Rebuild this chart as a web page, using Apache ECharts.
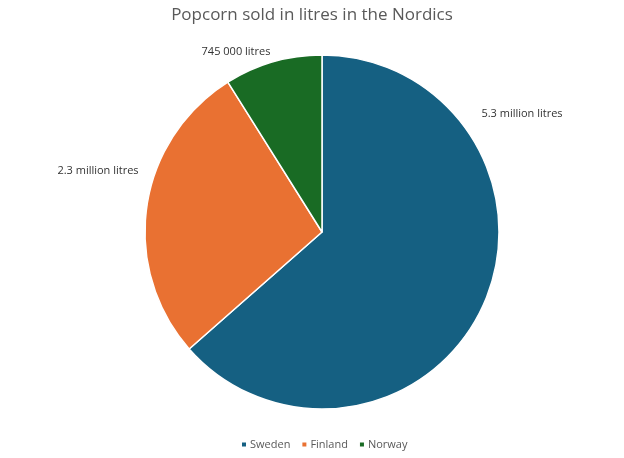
<!DOCTYPE html>
<html lang="en">
<head>
  <meta charset="UTF-8">
  <title>popcorn</title>
  <style>
    * { padding: 0; margin: 0; }
    #charts { width: 624px; height: 458px; background: #fff; }
  </style>
</head>
<body>
  <div id="charts"></div>
</body>
<script src="https://cdn.jsdelivr.net/npm/echarts@6/dist/echarts.min.js"></script>
<script type="text/javascript">
  var countries = ['Sweden', 'Finland', 'Norway']
  var litres = [5300000, 2300000, 745000]
  var labelTexts = ['5.3 million litres', '2.3 million litres', '745 000 litres']
  var colors = ['#156082', '#E97132', '#196B24']

  // label spots as placed in the original (x, y centre)
  var labelSpots = [[522, 114], [98, 171], [236, 52]]

  var myChart = echarts.init(document.getElementById('charts'))

  var seriesData = []
  for (var i = 0; i < countries.length; i++) {
    seriesData.push({ name: countries[i], value: litres[i], itemStyle: { color: colors[i] } })
  }

  var option = {
    animation: false,
    textStyle: { fontFamily: 'Open Sans' },
    title: {
      text: 'Popcorn sold in litres in the Nordics',
      left: 'center',
      top: 2,
      textStyle: { fontSize: 17, fontWeight: 'normal', color: '#595959', fontFamily: 'Open Sans' }
    },
    legend: {
      bottom: 3,
      left: 235,
      icon: 'rect',
      itemWidth: 6,
      itemHeight: 6,
      itemGap: 10,
      textStyle: { fontSize: 11, color: '#595959', padding: [0, 0, 0, -2] },
      data: countries
    },
    series: [{
      type: 'pie',
      center: [322, 232],
      radius: 177,
      startAngle: 90,
      clockwise: true,
      itemStyle: { borderColor: '#fff', borderWidth: 1.5 },
      label: {
        show: true,
        position: 'outside',
        color: '#333333',
        fontSize: 11,
        formatter: function (p) { return labelTexts[p.dataIndex] }
      },
      labelLine: { show: false },
      labelLayout: function (params) {
        var s = labelSpots[params.dataIndex]
        return { x: s[0], y: s[1], align: 'center', verticalAlign: 'middle' }
      },
      emphasis: { disabled: true },
      data: seriesData
    }]
  }
  myChart.setOption(option)
</script>
</html>
